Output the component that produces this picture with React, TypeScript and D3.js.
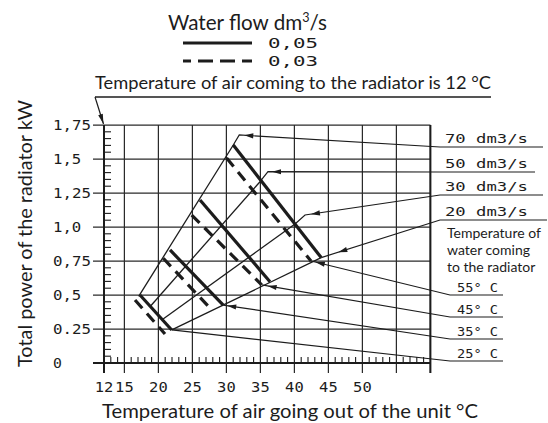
import React from "react";
import * as d3 from "d3";

type Pt = [number, number];

// ---------- axes ----------
const xGridValues = [12, 15, 20, 25, 30, 35, 40, 45, 50, 55, 60];
const xTickValues = [12, 15, 20, 25, 30, 35, 40, 45, 50];
const xTickLabels = ["12", "15", "20", "25", "30", "35", "40", "45", "50"];
const yTickValues = [0, 0.25, 0.5, 0.75, 1.0, 1.25, 1.5, 1.75];
const yTickLabels = ["0", "0.25", "0,5", "0,75", "1,0", "1,25", "1,5", "1,75"];

// ---------- water temperature lines (water flow 0,05 solid / 0,03 dashed) ----------
const waterTempLabels = ["25° C", "35° C", "45° C", "55° C"];
const flow005Lines: Pt[][] = [
  [[17.29, 0.5], [21.96, 0.243]],
  [[21.71, 0.831], [29.54, 0.426]],
  [[26.12, 1.199], [36.41, 0.598]],
  [[31.01, 1.603], [43.94, 0.775]],
];
const flow003Lines: Pt[][] = [
  [[16.56, 0.463], [20.97, 0.213]],
  [[20.72, 0.77], [27.84, 0.39]],
  [[24.9, 1.088], [35.19, 0.574]],
  [[30.03, 1.507], [42.44, 0.75]],
];
const tempLeaderAnchors: Pt[] = [
  [21.96, 0.243],
  [29.54, 0.426],
  [35.19, 0.574],
  [42.44, 0.75],
];

// ---------- air flow lines ----------
const airFlowLabels = ["70 dm3/s", "50 dm3/s", "30 dm3/s", "20 dm3/s"];
const airFlowLines: Pt[][] = [
  [[17.1, 0.49], [31.01, 1.603]],
  [[18.76, 0.414], [34.94, 1.333]],
  [[20.49, 0.316], [40.09, 1.022]],
  [[21.96, 0.243], [43.94, 0.775]],
];

// ---------- legend ----------
const legendLabels = ["0,05", "0,03"];

// ---------- layout (pixels) ----------
const flowUnderlineY = [147, 172, 195, 220];
const flowUnderlineEnd = [543, 535, 543, 547];
const flowBend: (Pt | null)[] = [[6, -10], [8, -10], [10, -9], null];
const flowArrowDist = [5, 4, 6, 18];
const tempUnderlineY = [361, 339, 317, 295];
const tempArrowDist = [0, 4, 6, 5];

const INK = "#1c1c1c";
const MONO = "'DejaVu Sans Mono', 'Liberation Mono', monospace";
const SANS = "Lato, 'Open Sans', sans-serif";
const monoWidth = (s: string) => s.length * 9.7 - 0.8;

function arrowPoly(tip: Pt, toward: Pt, len = 9, half = 2.6): string {
  const dx = toward[0] - tip[0];
  const dy = toward[1] - tip[1];
  const d = Math.hypot(dx, dy) || 1;
  const ux = dx / d, uy = dy / d;
  const bx = tip[0] + ux * len, by = tip[1] + uy * len;
  return `${tip[0]},${tip[1]} ${bx - uy * half},${by + ux * half} ${bx + uy * half},${by - ux * half}`;
}
function along(a: Pt, b: Pt, t: number): Pt {
  const dx = b[0] - a[0], dy = b[1] - a[1];
  const d = Math.hypot(dx, dy) || 1;
  return [a[0] + (dx / d) * t, a[1] + (dy / d) * t];
}

export default function App() {
  const x = d3.scaleLinear().domain([12, 60]).range([104, 430.4]);
  const y = d3.scaleLinear().domain([0, 1.75]).range([363, 125]);
  const line = d3.line<Pt>().x((d) => x(d[0])).y((d) => y(d[1]));
  const P = (d: Pt): Pt => [x(d[0]), y(d[1])];

  const xMinor = d3.range(13, 60).filter((v) => v % 5 !== 0);
  const yMinor = d3.range(1, 35).filter((i) => i % 5 !== 0).map((i) => i * 0.05);
  const gridLeft = 93;
  const tickBottom = 373;
  const pl = d3.line<Pt>();

  return (
    <svg
      width={548}
      height={423}
      viewBox="0 0 548 423"
      style={{ position: "absolute", left: 0, top: 0, background: "#fff" }}
    >
      <rect width={548} height={423} fill="#fff" />

      {/* grid */}
      <g stroke="#2a2a2a" strokeWidth={1.25}>
        {yTickValues.map((v) => (
          <line key={"gy" + v} x1={gridLeft} x2={x(60)} y1={y(v)} y2={y(v)} />
        ))}
        {xGridValues.map((v) => (
          <line key={"gx" + v} x1={x(v)} x2={x(v)} y1={y(1.75)} y2={tickBottom} />
        ))}
      </g>
      {/* minor ticks */}
      <g stroke={INK} strokeWidth={1.1}>
        {xMinor.map((v) => (
          <line key={"mx" + v} x1={x(v)} x2={x(v)} y1={y(0)} y2={y(0) - 6} />
        ))}
        {yMinor.map((v) => (
          <line key={"my" + v} x1={x(12)} x2={x(12) + 7} y1={y(v)} y2={y(v)} />
        ))}
      </g>
      {/* axes & frame */}
      <g stroke={INK} strokeWidth={2}>
        <line x1={x(12)} x2={x(12)} y1={y(1.75)} y2={tickBottom} />
        <line x1={gridLeft} x2={x(60)} y1={y(0)} y2={y(0)} />
        <line x1={x(60)} x2={x(60)} y1={y(1.75)} y2={tickBottom} />
      </g>

      {/* tick labels */}
      <g fontFamily={MONO} fontSize={13.5} fill={INK}>
        {yTickValues.map((v, i) => (
          <text
            key={"yl" + v}
            x={53}
            y={y(v) + 5}
            textLength={monoWidth(yTickLabels[i])}
            lengthAdjust="spacingAndGlyphs"
          >
            {yTickLabels[i]}
          </text>
        ))}
        {xTickValues.map((v, i) => (
          <text
            key={"xl" + v}
            x={x(v) - monoWidth(xTickLabels[i]) / 2}
            y={392}
            textLength={monoWidth(xTickLabels[i])}
            lengthAdjust="spacingAndGlyphs"
          >
            {xTickLabels[i]}
          </text>
        ))}
      </g>

      {/* air flow (radial) lines */}
      <g stroke={INK} strokeWidth={1.3} fill="none">
        {airFlowLines.map((l, i) => (
          <path key={"af" + i} d={line(l) || ""} />
        ))}
      </g>
      {/* water temperature lines */}
      <g stroke={INK} strokeWidth={3.2} fill="none">
        {flow005Lines.map((l, i) => (
          <path key={"s" + i} d={line(l) || ""} />
        ))}
        {flow003Lines.map((l, i) => (
          <path key={"d" + i} d={line(l) || ""} strokeDasharray="11 7" />
        ))}
      </g>

      {/* air flow leaders and labels */}
      {airFlowLines.map((l, i) => {
        const a = P(l[1]);
        const b = flowBend[i];
        const p1: Pt = b ? [a[0] + b[0], a[1] + b[1]] : a;
        const p2: Pt = [440, flowUnderlineY[i]];
        const p3: Pt = [flowUnderlineEnd[i], flowUnderlineY[i]];
        const pts: Pt[] = b ? [a, p1, p2, p3] : [a, p2, p3];
        const tip = along(p1, p2, flowArrowDist[i]);
        return (
          <g key={"fl" + i}>
            <path d={pl(pts) || ""} stroke={INK} strokeWidth={1.2} fill="none" />
            <polygon points={arrowPoly(tip, p2)} fill={INK} />
            <text
              x={445}
              y={flowUnderlineY[i] - 4}
              fontFamily={MONO}
              fontSize={13}
              fill={INK}
              textLength={83}
              lengthAdjust="spacingAndGlyphs"
            >
              {airFlowLabels[i]}
            </text>
          </g>
        );
      })}

      {/* water temperature leaders and labels */}
      {tempLeaderAnchors.map((d, i) => {
        const a = P(d);
        const p1: Pt = [450, tempUnderlineY[i]];
        const p2: Pt = [503, tempUnderlineY[i]];
        const tip = along(a, p1, tempArrowDist[i]);
        return (
          <g key={"tl" + i}>
            <path d={pl([a, p1, p2]) || ""} stroke={INK} strokeWidth={1.2} fill="none" />
            {tempArrowDist[i] > 0 && <polygon points={arrowPoly(tip, p1)} fill={INK} />}
            <text
              x={457}
              y={tempUnderlineY[i] - 3.5}
              fontFamily={MONO}
              fontSize={13}
              fill={INK}
              textLength={41}
              lengthAdjust="spacingAndGlyphs"
            >
              {waterTempLabels[i]}
            </text>
          </g>
        );
      })}

      <g fontFamily={SANS} fontSize={14} fill={INK}>
        <text x={447} y={238}>Temperature of</text>
        <text x={447} y={255}>water coming</text>
        <text x={447} y={272}>to the radiator</text>
      </g>

      {/* top title & legend */}
      <text
        x={168}
        y={30}
        fontFamily={SANS}
        fontSize={20.5}
        fill={INK}
        textLength={159}
        lengthAdjust="spacingAndGlyphs"
      >
        Water flow dm<tspan fontSize={12.5} dy={-8}>3</tspan>
        <tspan dy={8}>/s</tspan>
      </text>
      <line x1={183} x2={252} y1={43} y2={43} stroke={INK} strokeWidth={3} />
      <line
        x1={183}
        x2={252}
        y1={61}
        y2={61}
        stroke={INK}
        strokeWidth={3}
        strokeDasharray="8 7 15 7 15 7 10 40"
      />
      <g fontFamily={MONO} fontSize={14} fill={INK}>
        <text x={268} y={48} textLength={50} lengthAdjust="spacingAndGlyphs">
          {legendLabels[0]}
        </text>
        <text x={268} y={66} textLength={50} lengthAdjust="spacingAndGlyphs">
          {legendLabels[1]}
        </text>
      </g>

      <text
        x={95}
        y={89}
        fontFamily={SANS}
        fontSize={17.5}
        fill={INK}
        textLength={396}
        lengthAdjust="spacingAndGlyphs"
      >
        Temperature of air coming to the radiator is 12 °C
      </text>
      <line x1={95} x2={491} y1={97} y2={97} stroke={INK} strokeWidth={1.3} />
      <line x1={95} x2={x(12) - 0.5} y1={97} y2={y(1.75) - 1} stroke={INK} strokeWidth={1.2} />
      <polygon
        points={arrowPoly([x(12) - 0.5, y(1.75) - 1], [95, 97], 10, 2.4)}
        fill={INK}
      />

      {/* axis titles */}
      <text
        x={102}
        y={418}
        fontFamily={SANS}
        fontSize={19}
        fill={INK}
        textLength={376}
        lengthAdjust="spacingAndGlyphs"
      >
        Temperature of air going out of the unit °C
      </text>
      <text
        transform="translate(32,367) rotate(-90)"
        x={0}
        y={0}
        fontFamily={SANS}
        fontSize={19}
        fill={INK}
        textLength={267}
        lengthAdjust="spacingAndGlyphs"
      >
        Total power of the radiator kW
      </text>
    </svg>
  );
}
